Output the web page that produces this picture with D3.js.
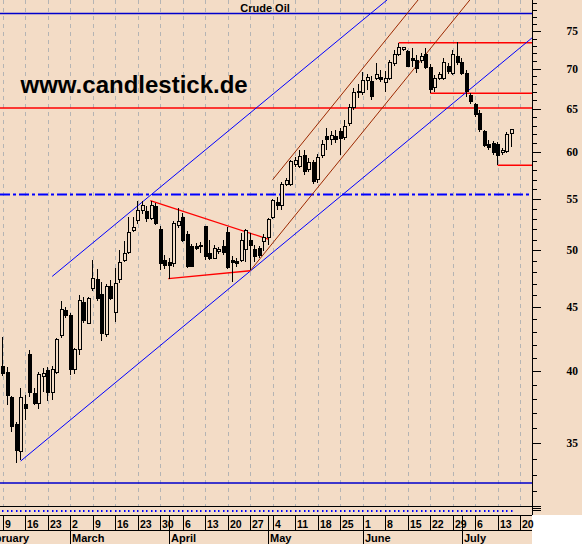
<!DOCTYPE html>
<html>
<head>
<meta charset="utf-8">
<script src="https://cdn.jsdelivr.net/npm/d3@7"></script>
<style>
  body { margin: 0; background: #fff; }
  svg text { font-family: "Liberation Sans", Arial, sans-serif; font-weight: bold; }
</style>
</head>
<body>
<svg width="582" height="544"></svg>
<script>
var title = "Crude Oil";
var watermark = "www.candlestick.de";
var firstDay = "2009-02-09";

// daily candles (one per weekday from firstDay)
var open  = [40.3,39.9,38.1,36.2,34.45,37.6,41.2,38.35,37.65,39.6,40.0,38.4,39.9,42.7,44.7,44.3,40.1,41.6,45.4,43.7,
             46.6,47.4,46.1,42.8,46.75,44.55,47.4,49.1,49.85,51.85,52.8,53.8,53.73,53.07,54.23,52.0,49.04,48.85,48.8,52.4,
             53.1,51.53,50.4,50.4,50.45,52.23,49.73,49.3,49.9,50.35,51.65,49.1,49.0,49.1,50.04,50.97,50.1,50.2,50.8,51.2,
             53.17,54.63,54.33,56.5,56.5,58.6,58.4,59.66,58.03,58.8,57.05,59.66,61.7,61.4,61.7,62.3,61.65,63.2,65.2,66.95,
             66.95,68.55,68.4,68.75,68.9,68.2,68.8,70.7,71.9,72.5,72.25,71.4,71.1,71.1,71.9,70.2,67.6,68.75,68.75,70.3,
             69.4,71.6,70.8,69.4,66.55,65.45,64.45,62.3,60.8,60.9,60.8,59.9,60.0,62.1];
var high  = [42.6,40.3,38.2,36.4,38.75,38.25,41.6,38.75,39.9,40.2,40.3,40.4,42.5,45.5,45.0,44.5,41.7,46.0,45.9,45.9,
             49.1,48.3,47.2,47.0,47.3,48.4,50.0,50.9,53.2,53.2,54.8,54.8,54.3,54.83,54.6,52.3,49.6,49.3,52.8,54.1,
             53.6,51.8,50.6,50.7,50.8,52.3,50.97,50.5,50.3,50.97,52.2,49.5,49.3,51.6,52.0,51.6,50.5,50.4,51.5,53.1,
             55.0,55.2,56.78,57.2,59.1,59.4,60.2,60.2,59.3,59.1,59.8,61.3,62.7,62.4,62.5,62.7,63.6,65.6,67.5,68.0,
             69.6,69.3,69.0,70.7,69.8,69.7,71.1,72.5,73.45,72.9,72.5,72.8,71.8,72.0,72.7,70.6,69.2,69.6,71.4,70.7,
             72.5,73.55,71.4,69.8,66.9,65.7,64.8,62.5,61.3,61.2,61.1,60.4,62.3,62.6];
var low   = [39.6,37.55,35.75,33.7,33.9,36.5,38.1,37.55,37.3,38.5,37.8,37.9,39.8,42.5,44.1,39.7,39.8,41.2,43.7,43.6,
             46.4,45.5,42.3,42.6,45.6,43.8,47.05,48.95,49.7,51.7,52.5,53.5,52.7,52.9,52.4,48.2,48.3,47.45,48.5,52.1,
             50.8,48.4,48.5,50.0,49.8,49.1,49.1,49.2,49.7,49.6,48.35,47.15,48.5,48.9,48.9,48.2,48.9,49.3,49.9,50.5,
             53.0,53.9,53.9,56.3,56.3,58.4,58.2,57.5,57.8,56.5,56.6,59.3,60.2,60.8,61.0,59.65,61.3,62.9,64.8,66.3,
             66.7,67.3,66.06,68.5,68.3,67.1,68.5,70.3,71.7,72.3,70.2,70.2,69.4,70.8,70.0,66.9,67.1,68.5,68.5,69.3,
             69.2,70.5,69.2,66.4,65.6,64.0,62.3,60.5,60.2,59.7,58.55,59.7,59.9,60.6];
var close = [39.8,38.25,36.1,34.5,38.05,37.3,38.4,37.65,39.7,39.8,38.4,40.1,42.4,44.8,44.3,40.1,41.6,45.6,43.9,45.7,
             47.5,45.75,42.9,46.75,45.75,47.05,48.9,49.7,51.7,52.2,53.8,54.3,53.07,54.3,52.57,48.8,48.6,48.6,52.57,52.73,
             50.97,48.5,48.55,50.2,50.35,49.4,49.3,50.14,50.1,49.8,48.45,48.85,48.8,50.97,51.83,50.5,49.4,49.5,51.2,52.9,
             54.83,54.35,56.53,56.96,58.92,59.1,59.55,57.85,58.8,56.8,59.4,60.8,61.4,61.8,61.4,61.5,62.9,65.2,66.95,67.1,
             68.55,68.9,66.5,69.2,68.6,68.8,70.8,71.9,72.75,72.75,70.3,71.1,70.0,71.6,70.2,67.4,68.75,69.2,70.8,69.6,
             71.8,70.8,69.4,67.1,65.85,64.25,62.5,60.7,60.55,59.9,59.65,60.15,62.0,62.5];

var priceLabels = [35, 40, 45, 50, 55, 60, 65, 70, 75];

// drawn lines as [day index, price] pairs
var channelLow   = [[4, 33.85], [117.6, 74.1]];
var channelHigh  = [[11, 47.65], [85.4, 79.5]];
var trendUpper   = [[60, 57.0], [92.3, 79.5]];
var trendLower   = [[55, 48.15], [103.8, 79.5]];
var wedgeTop     = [[32.8, 54.83], [59, 51.06]];
var wedgeBottom  = [[36.8, 47.45], [55, 48.15]];
var blueLevels   = [77.55, 32.5];
var redLevel     = 65.1;
var dashLevel    = 55.45;
var resistStart  = [88, 95, 110];
var resistPrice  = [73.45, 66.9, 58.55];

var svg = d3.select("svg");
var bg = "#f3dcc6";
var right = 532, bottom = 506;

svg.append("rect").attr("width", 582).attr("height", 544).attr("fill", "#fff");
svg.append("rect").attr("width", 582).attr("height", 515).attr("fill", bg);
svg.append("rect").attr("y", 515).attr("width", right).attr("height", 29).attr("fill", bg);

var x = d3.scaleLinear().domain([0, 115]).range([2.7, 520.2]);
var y = d3.scaleLog().domain([35, 75]).range([443, 31.45]);

svg.append("clipPath").attr("id", "plot")
  .append("rect").attr("width", right).attr("height", bottom);

var plot = svg.append("g").attr("clip-path", "url(#plot)");

// weekly grid
plot.selectAll(".grid")
  .data(d3.range(0, 116, 5))
  .enter().append("line")
    .attr("x1", function(i) { return Math.round(x(i)) + 0.5; })
    .attr("x2", function(i) { return Math.round(x(i)) + 0.5; })
    .attr("y1", 0).attr("y2", bottom)
    .attr("stroke", "#b4b4b4")
    .attr("stroke-dasharray", "4,4");

plot.append("text")
  .attr("x", 20.5).attr("y", 92.5)
  .attr("font-size", 24)
  .text(watermark);

function hline(price, x0, color, width, dash) {
  plot.append("line")
    .attr("x1", x0).attr("x2", right)
    .attr("y1", y(price)).attr("y2", y(price))
    .attr("stroke", color).attr("stroke-width", width)
    .attr("stroke-dasharray", dash || null);
}

blueLevels.forEach(function(p) { hline(p, 0, "#0000cc", 1.5); });
hline(redLevel, 0, "#ff0000", 1.5);
hline(dashLevel, 0, "#0000ff", 2, "10,3,3,3");
resistStart.forEach(function(s, k) { hline(resistPrice[k], x(s), "#ff0000", 1.5); });

function seg(pts, color, width) {
  plot.append("line")
    .attr("x1", x(pts[0][0])).attr("y1", y(pts[0][1]))
    .attr("x2", x(pts[1][0])).attr("y2", y(pts[1][1]))
    .attr("stroke", color).attr("stroke-width", width);
}

seg(channelLow, "#0000ff", 1);
seg(channelHigh, "#0000ff", 1);
seg(trendUpper, "#9c2800", 1);
seg(trendLower, "#9c2800", 1);
seg(wedgeTop, "#ff0000", 1.3);
seg(wedgeBottom, "#ff0000", 1.3);

// candles
var candles = close.map(function(c, i) {
  return { i: i, o: open[i], h: high[i], l: low[i], c: c };
});

var cg = plot.selectAll(".candle")
  .data(candles)
  .enter().append("g")
    .attr("shape-rendering", "crispEdges");

cg.append("line")
  .attr("x1", function(d) { return Math.floor(x(d.i)) + 0.5; })
  .attr("x2", function(d) { return Math.floor(x(d.i)) + 0.5; })
  .attr("y1", function(d) { return y(d.h); })
  .attr("y2", function(d) { return y(d.l); })
  .attr("stroke", "#000");

cg.append("rect")
  .attr("x", function(d) { return Math.floor(x(d.i)) - 1; })
  .attr("width", 3)
  .attr("y", function(d) { return y(Math.max(d.o, d.c)); })
  .attr("height", function(d) { return Math.max(1, Math.abs(y(d.o) - y(d.c))); })
  .attr("fill", function(d) { return d.c < d.o ? "#000" : bg; })
  .attr("stroke", "#000");

// dotted marker row under the plot
svg.selectAll(".dot")
  .data(candles)
  .enter().append("rect")
    .attr("x", function(d) { return Math.floor(x(d.i)); })
    .attr("y", 510)
    .attr("width", 1.5).attr("height", 2)
    .attr("fill", "#0000ff");

svg.append("text")
  .attr("x", 265).attr("y", 12)
  .attr("text-anchor", "middle")
  .attr("font-size", 11)
  .text(title);

// right price axis
svg.append("line")
  .attr("x1", right + 0.5).attr("x2", right + 0.5)
  .attr("y1", 0).attr("y2", 515)
  .attr("stroke", "#000");

svg.selectAll(".tick")
  .data(d3.range(31, 80).filter(function(p) { return y(p) < bottom; }))
  .enter().append("line")
    .attr("x1", right).attr("x2", function(p) { return p % 5 ? right + 5 : right + 9; })
    .attr("y1", function(p) { return Math.round(y(p)) + 0.5; })
    .attr("y2", function(p) { return Math.round(y(p)) + 0.5; })
    .attr("stroke", "#000");

svg.selectAll(".pl")
  .data(priceLabels)
  .enter().append("text")
    .attr("x", 578).attr("y", function(p) { return y(p); })
    .attr("dy", "0.35em")
    .attr("text-anchor", "end")
    .attr("font-size", 11.5)
    .style("font-family", "'Liberation Serif', serif")
    .text(function(p) { return p; });

[506.5, 508.5, 510.5].forEach(function(v) {
  svg.append("line").attr("x1", right).attr("x2", right + 9)
    .attr("y1", v).attr("y2", v).attr("stroke", "#000");
});

// date rows
[bottom + 0.5, 515.5, 530.5].forEach(function(v) {
  svg.append("line").attr("x1", 0).attr("x2", right)
    .attr("y1", v).attr("y2", v).attr("stroke", "#000");
});

var start = d3.timeParse("%Y-%m-%d")(firstDay);
var days = [];
var d = d3.timeDay.offset(start, -7);
while (days.length < 130) {
  if (d.getDay() > 0 && d.getDay() < 6) days.push(d);
  d = d3.timeDay.offset(d, 1);
}
function dayIndex(j) { return j - 5; }

var weeks = d3.range(0, 116, 5);
svg.selectAll(".wk")
  .data(weeks)
  .enter().append("line")
    .attr("x1", function(i) { return Math.round(x(i)) + 0.5; })
    .attr("x2", function(i) { return Math.round(x(i)) + 0.5; })
    .attr("y1", 515).attr("y2", 530)
    .attr("stroke", "#000");

svg.selectAll(".wl")
  .data(weeks)
  .enter().append("text")
    .attr("x", function(i) { return Math.round(x(i)) + 2; })
    .attr("y", 527.5)
    .attr("font-size", 10.5)
    .text(function(i) { return days[i + 5].getDate(); });

var months = days.map(function(dd, j) { return j; })
  .filter(function(j) { return j === 0 || days[j].getMonth() !== days[j - 1].getMonth(); })
  .filter(function(j) { return x(dayIndex(j)) < right; });

svg.selectAll(".ms")
  .data(months)
  .enter().append("line")
    .attr("x1", function(j) { return Math.round(x(dayIndex(j))) + 0.5; })
    .attr("x2", function(j) { return Math.round(x(dayIndex(j))) + 0.5; })
    .attr("y1", 515).attr("y2", 544)
    .attr("stroke", "#000");

svg.selectAll(".ml")
  .data(months)
  .enter().append("text")
    .attr("x", function(j) { return Math.round(x(dayIndex(j))) + 2; })
    .attr("y", 542)
    .attr("font-size", 11)
    .text(function(j) { return d3.timeFormat("%B")(days[j]); });
</script>
</body>
</html>
